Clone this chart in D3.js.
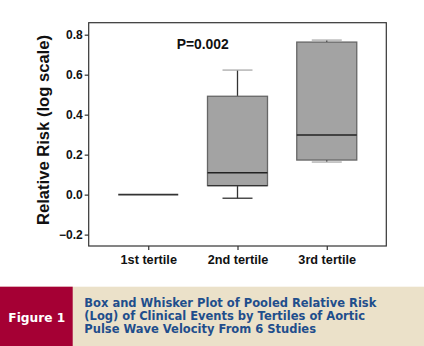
<!DOCTYPE html>
<html><head><meta charset="utf-8">
<script src="https://cdn.jsdelivr.net/npm/d3@7"></script>
<style>body{margin:0;background:#fff}svg{display:block}</style>
</head><body>
<script>
const categories = ["1st tertile", "2nd tertile", "3rd tertile"];
const whiskerLow  = [0.0, -0.018, 0.163];
const q1          = [0.0,  0.045, 0.173];
const median      = [0.0,  0.110, 0.298];
const q3          = [0.0,  0.492, 0.763];
const whiskerHigh = [0.0,  0.623, 0.773];
const yTicks = [-0.2, 0.0, 0.2, 0.4, 0.6, 0.8];
const pText = "P=0.002";
const yLabel = "Relative Risk (log scale)";
const figLabel = "Figure 1";
const captionLines = ["Box and Whisker Plot of Pooled Relative Risk",
  "(Log) of Clinical Events by Tertiles of Aortic",
  "Pulse Wave Velocity From 6 Studies"];

const W = 424, H = 346;
const svg = d3.select("body").append("svg").attr("width", W).attr("height", H);
const L = 88.7, R = 386.3, T = 22.7, B = 246;
const x = d3.scalePoint().domain(categories).range([L, R]).padding(0.667);
const y = d3.scaleLinear().domain([-0.257, 0.86]).range([B, T]);
const font = "'Liberation Sans', Arial, sans-serif";

// frame
svg.append("rect").attr("x", L).attr("y", T).attr("width", R - L).attr("height", B - T)
  .attr("fill", "none").attr("stroke", "#333").attr("stroke-width", 1.2);

// y axis
const ya = svg.append("g").attr("transform", `translate(${L},0)`)
  .call(d3.axisLeft(y).tickValues(yTicks).tickFormat(d3.format(".1f")).tickSize(4).tickSizeOuter(0));
ya.select(".domain").remove();
ya.selectAll("line").attr("stroke", "#333").attr("stroke-width", 1.2);
ya.selectAll("text").attr("font-family", font).attr("font-weight", "bold").attr("font-size", 12)
  .attr("fill", "#111").attr("x", -6);

// x axis
const xa = svg.append("g").attr("transform", `translate(0,${B})`)
  .call(d3.axisBottom(x).tickSize(4).tickSizeOuter(0));
xa.select(".domain").remove();
xa.selectAll("line").attr("stroke", "#333").attr("stroke-width", 1.2);
xa.selectAll("text").attr("font-family", font).attr("font-weight", "bold").attr("font-size", 12.7)
  .attr("fill", "#111").attr("y", 9);

// y label
svg.append("text").attr("transform", `translate(49,130) rotate(-90)`).attr("text-anchor", "middle")
  .attr("font-family", font).attr("font-weight", "bold").attr("font-size", 16.6).attr("fill", "#111")
  .text(yLabel);

// P text
svg.append("text").attr("x", 202.7).attr("y", 48.5).attr("text-anchor", "middle")
  .attr("font-family", font).attr("font-weight", "bold").attr("font-size", 13.9).attr("fill", "#111")
  .text(pText);

const bw = 60, cw = 30;
categories.forEach((c, i) => {
  const cx = x(c);
  const g = svg.append("g");
  if (q3[i] === q1[i]) {
    g.append("line").attr("x1", cx - bw / 2).attr("x2", cx + bw / 2)
      .attr("y1", y(median[i])).attr("y2", y(median[i])).attr("stroke", "#333").attr("stroke-width", 1.6);
    return;
  }
  g.append("line").attr("x1", cx).attr("x2", cx).attr("y1", y(whiskerHigh[i])).attr("y2", y(q3[i]))
    .attr("stroke", "#333").attr("stroke-width", 1.3);
  g.append("line").attr("x1", cx).attr("x2", cx).attr("y1", y(q1[i])).attr("y2", y(whiskerLow[i]))
    .attr("stroke", "#333").attr("stroke-width", 1.3);
  g.append("line").attr("x1", cx - cw / 2).attr("x2", cx + cw / 2)
    .attr("y1", y(whiskerHigh[i])).attr("y2", y(whiskerHigh[i])).attr("stroke", "#aaa").attr("stroke-width", 1.3);
  g.append("line").attr("x1", cx - cw / 2).attr("x2", cx + cw / 2)
    .attr("y1", y(whiskerLow[i])).attr("y2", y(whiskerLow[i])).attr("stroke", i === 1 ? "#333" : "#aaa").attr("stroke-width", 1.3);
  g.append("rect").attr("x", cx - bw / 2).attr("width", bw).attr("y", y(q3[i]))
    .attr("height", y(q1[i]) - y(q3[i])).attr("fill", "#a3a3a3").attr("stroke", "#666").attr("stroke-width", 1.3);
  g.append("line").attr("x1", cx - bw / 2).attr("x2", cx + bw / 2)
    .attr("y1", y(median[i])).attr("y2", y(median[i])).attr("stroke", "#222").attr("stroke-width", 1.5);
  if (i === 1) g.append("line").attr("x1", cx - bw / 2).attr("x2", cx + bw / 2)
    .attr("y1", y(q1[i])).attr("y2", y(q1[i])).attr("stroke", "#333").attr("stroke-width", 1.4);
});

// caption band
const capT = 286.7;
svg.append("rect").attr("x", 0).attr("y", capT).attr("width", W).attr("height", H - capT).attr("fill", "#ebe1c9");
svg.append("rect").attr("x", 0).attr("y", capT).attr("width", 72.7).attr("height", H - capT).attr("fill", "#a50034");
svg.append("text").attr("x", 36.8).attr("y", 321.5).attr("text-anchor", "middle")
  .attr("font-family", "'DejaVu Sans', sans-serif").attr("font-weight", "bold").attr("font-size", 12.2).attr("fill", "#fff")
  .text(figLabel);
const cap = svg.append("text").attr("font-family", "'DejaVu Sans', sans-serif").attr("font-weight", "bold")
  .attr("font-size", 11.5).attr("fill", "#1f4e8c");
captionLines.forEach((t, i) => {
  cap.append("tspan").attr("x", 84.3).attr("y", 306.5 + i * 13.3).text(t);
});
</script>
</body></html>
